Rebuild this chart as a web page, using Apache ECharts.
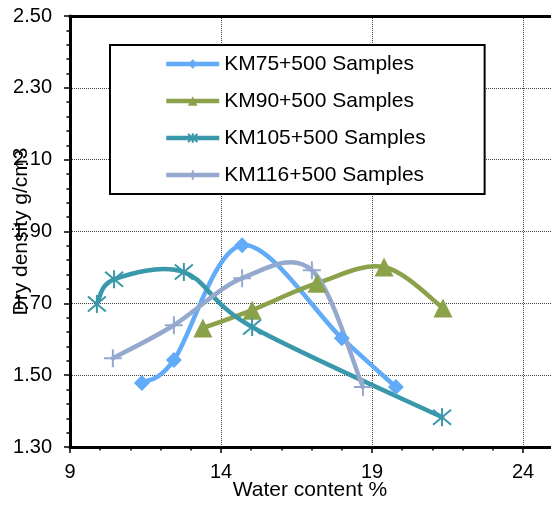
<!DOCTYPE html>
<html>
<head>
<meta charset="utf-8">
<style>html,body{margin:0;padding:0;background:#fff;overflow:hidden}#c{width:680px;height:505px}</style>
<script src="https://cdn.jsdelivr.net/npm/echarts@6/dist/echarts.min.js"></script>
</head>
<body>
<div id="c"></div>
<script>
var seriesNames = ['KM75+500 Samples', 'KM90+500 Samples', 'KM105+500 Samples', 'KM116+500 Samples'];
var km75 = [[11.38, 1.478], [12.44, 1.542], [14.70, 1.862], [18.00, 1.603], [19.79, 1.467]];
var km90 = [[13.40, 1.631], [15.03, 1.681], [17.18, 1.756], [19.40, 1.801], [21.35, 1.687]];
var km105 = [[9.89, 1.698], [10.46, 1.767], [12.77, 1.787], [15.03, 1.634], [21.32, 1.383]];
var km116 = [[10.42, 1.547], [12.44, 1.639], [14.70, 1.770], [17.01, 1.792], [18.70, 1.467]];
var xTicks = [9, 14, 19, 24];
var yTicks = ['1.30', '1.50', '1.70', '1.90', '2.10', '2.30', '2.50'];

var FONT = 'Liberation Sans, Arial, sans-serif';
var colors = ['#62ABF8', '#8BA24B', '#3A98AB', '#95A9CE'];
var asterisk = 'path://M0,0L10,10M10,0L0,10M5,-1L5,11';
var plus = 'path://M5,0L5,10M0,5L10,5';
var allData = [km75, km90, km105, km116];

// Excel-like smooth curve (Catmull-Rom as cubic Bezier) through points mapped by the axes
function curveSeries(i) {
  var data = allData[i];
  return {
    name: seriesNames[i] + ' curve', type: 'custom', data: data, silent: true, z: 2,
    encode: { x: 0, y: 1 },
    renderItem: function (params, api) {
      if (params.dataIndex !== 0) return { type: 'group', children: [] };
      var p = data.map(function (d) { return api.coord(d); });
      var n = p.length;
      var s = 'M' + p[0][0] + ',' + p[0][1];
      for (var k = 0; k < n - 1; k++) {
        var p0 = p[Math.max(k - 1, 0)], p1 = p[k], p2 = p[k + 1], p3 = p[Math.min(k + 2, n - 1)];
        var c1x = p1[0] + (p2[0] - p0[0]) / 6, c1y = p1[1] + (p2[1] - p0[1]) / 6;
        var c2x = p2[0] - (p3[0] - p1[0]) / 6, c2y = p2[1] - (p3[1] - p1[1]) / 6;
        s += 'C' + c1x + ',' + c1y + ',' + c2x + ',' + c2y + ',' + p2[0] + ',' + p2[1];
      }
      return {
        type: 'path', shape: { pathData: s },
        style: { fill: null, stroke: colors[i], lineWidth: 4.5, lineJoin: 'round', lineCap: 'round' }
      };
    }
  };
}

function markSeries(i, symbol, size, extra) {
  return {
    name: seriesNames[i], type: 'line', data: allData[i], smooth: false, z: 3,
    symbol: symbol, symbolSize: size,
    lineStyle: { color: colors[i], width: 4.5, opacity: 0 },
    itemStyle: Object.assign({ color: colors[i] }, extra || {}),
    emphasis: { disabled: true }
  };
}

var chart = echarts.init(document.getElementById('c'));
chart.setOption({
  animation: false,
  backgroundColor: '#fff',
  textStyle: { fontFamily: FONT },
  grid: { left: 70, top: 16, bottom: 58, right: 6, outerBoundsMode: 'none', containLabel: false, show: false },
  legend: {
    orient: 'vertical', left: 110, top: 45,
    padding: [8, 59, 8, 54], itemGap: 15, itemWidth: 53, itemHeight: 12,
    backgroundColor: '#fff', borderColor: '#000', borderWidth: 2,
    textStyle: { fontSize: 21, color: '#000', fontFamily: FONT, lineHeight: 22 },
    lineStyle: { opacity: 1, width: 4.5 },
    data: seriesNames
  },
  xAxis: [{
    type: 'value', min: xTicks[0], max: 29, interval: xTicks[1] - xTicks[0],
    name: 'Water content %', nameLocation: 'middle', nameGap: 33, nameMoveOverlap: false,
    nameTextStyle: { fontSize: 21, color: '#000', fontFamily: FONT, padding: [0, 124, 0, 0] },
    axisLine: { show: true, lineStyle: { color: '#000', width: 3 } },
    axisTick: { show: true, inside: false, length: 6, lineStyle: { color: '#000', width: 1.5 } },
    minorTick: { show: true, splitNumber: 5, length: 3.5, lineStyle: { color: '#000', width: 1.5 } },
    axisLabel: { fontSize: 20, color: '#000', margin: 15, fontFamily: FONT },
    splitLine: { show: true, lineStyle: { color: '#444', width: 1, type: 'dotted' } }
  }, {
    type: 'value', position: 'top', min: xTicks[0], max: 29, interval: xTicks[1] - xTicks[0],
    axisLine: { show: true, onZero: false, lineStyle: { color: '#000', width: 3 } },
    axisTick: { show: false }, axisLabel: { show: false }, splitLine: { show: false }
  }],
  yAxis: {
    type: 'value', min: parseFloat(yTicks[0]), max: parseFloat(yTicks[yTicks.length - 1]), interval: 0.2,
    name: 'Dry density g/cm3', nameLocation: 'middle', nameGap: 38, nameRotate: 90, nameMoveOverlap: false,
    nameTextStyle: { fontSize: 21, color: '#000', fontFamily: FONT },
    axisLine: { show: true, lineStyle: { color: '#000', width: 3 } },
    axisTick: { show: true, inside: false, length: 6, lineStyle: { color: '#000', width: 1.5 } },
    minorTick: { show: true, splitNumber: 5, length: 3.5, lineStyle: { color: '#000', width: 1.5 } },
    axisLabel: { fontSize: 20, color: '#000', margin: 18, fontFamily: FONT, formatter: function (v) { return v.toFixed(2); } },
    splitLine: { show: true, lineStyle: { color: '#444', width: 1, type: 'dotted' } }
  },
  series: [
    curveSeries(0), markSeries(0, 'diamond', 16),
    curveSeries(1), markSeries(1, 'triangle', 19),
    curveSeries(2), markSeries(2, asterisk, 18, { borderColor: colors[2], borderWidth: 2 }),
    curveSeries(3), markSeries(3, plus, 18, { borderColor: colors[3], borderWidth: 2 })
  ]
});
</script>
</body>
</html>
